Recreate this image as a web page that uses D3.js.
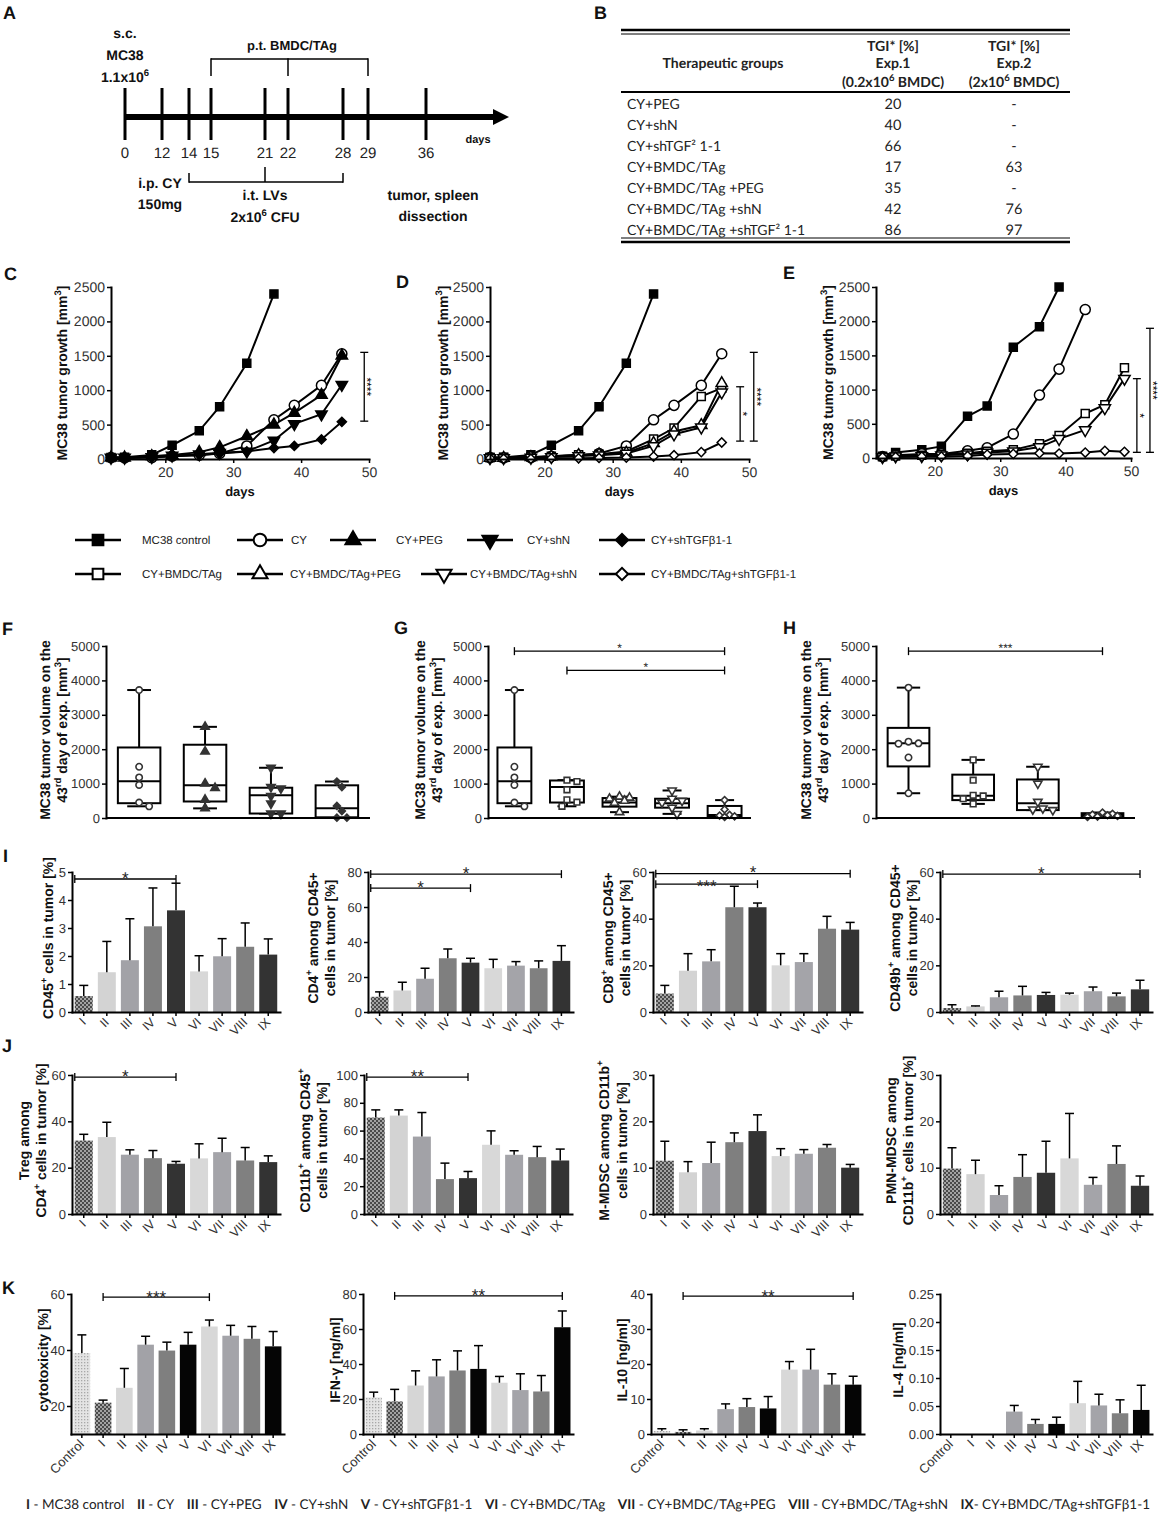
<!DOCTYPE html>
<html><head><meta charset="utf-8">
<script src="https://cdn.jsdelivr.net/npm/d3@7"></script>
<style>
body{margin:0;background:#fff;}
svg{display:block;}
text{text-rendering:geometricPrecision;}
</style></head><body>
<svg id="fig" width="1170" height="1517"></svg>
<script>
// ================= DATA =================
const timelineDays = [0,12,14,15,21,22,28,29,36];

const tableGroups = ["CY+PEG","CY+shN","CY+shTGF² 1-1","CY+BMDC/TAg","CY+BMDC/TAg +PEG","CY+BMDC/TAg +shN","CY+BMDC/TAg +shTGF² 1-1"];
const tgiExp1 = ["20","40","66","17","35","42","86"];
const tgiExp2 = ["-","-","-","63","-","76","97"];

const groupNames = ["MC38 control","CY","CY+PEG","CY+shN","CY+shTGFβ1-1","CY+BMDC/TAg","CY+BMDC/TAg+PEG","CY+BMDC/TAg+shN","CY+BMDC/TAg+shTGFβ1-1"];
const groupSym = ["square","circle","tri","triDown","diamond","square","tri","triDown","diamond"];
const groupFilled = [true,false,true,true,true,false,false,false,false];

const growthDays  = [12,14,18,21,25,28,32,36,39,43,46];
const growthDaysE = [12,14,18,21,25,28,32,36,39,43,46,49];

// C
const cControl = [20,25,60,200,410,760,1390,2400];
const cCY      = [20,15,20,40,55,80,190,570,780,1070,1530];
const cPEG     = [20,20,40,60,100,170,330,500,670,930,1500];
const cShN     = [20,20,30,50,70,90,110,270,510,650,1080];
const cShTGF   = [15,15,25,40,60,80,110,160,190,285,540];
// D
const dControl   = [20,25,60,200,410,760,1390,2400];
const dCY        = [20,15,20,40,55,80,190,570,780,1070,1530];
const dBMDC      = [20,20,30,40,60,70,110,290,450,910,1030];
const dBMDCPEG   = [15,15,25,35,55,65,90,230,400,490,1100];
const dBMDCShN   = [15,15,20,30,45,55,80,190,360,460,970];
const dBMDCShTGF = [10,5,5,10,10,15,20,35,55,100,240];
// E
const eControl   = [25,80,120,170,610,760,1620,1920,2500];
const eCY        = [20,40,60,60,105,150,350,920,1300,2170];
const eBMDC      = [20,30,40,50,70,100,120,210,330,650,780,1320];
const eBMDCShN   = [15,25,30,40,55,80,100,160,280,410,730,1160];
const eBMDCShTGF = [10,15,20,20,30,50,60,70,65,80,105,90];

const growthTicksY = [0,500,1000,1500,2000,2500];
const growthTicksX = [20,30,40,50];

// F, G, H box plots (tumour volume day 43)
const fGroups = [1,2,3,4];
const fPoints = [[3720,1490,1180,960,450,340],[2650,1930,1000,870,530,280],[1460,900,860,640,420,130,130],[1060,900,350,200,10,10]];
const fQ1 = [430,480,130,20], fMed = [1070,950,660,280], fQ3 = [2050,2130,880,950];

const gGroups = [1,5,6,7,8];
const gPoints = [[3720,1490,1180,960,450,340],[1100,1060,820,530,460,340],[620,590,560,500,440,170],[800,560,500,450,300,120],[520,250,90,70,50,30]];
const gQ1 = [430,450,330,300,40], gMed = [1070,900,450,430,90], gQ3 = [2050,1090,580,560,350];

const hGroups = [1,5,7,8];
const hPoints = [[3790,2220,2170,2160,1760,720],[1690,1100,660,640,560,410],[1490,1000,470,280,250,230],[160,120,100,80,60,40,30]];
const hQ1 = [1500,520,230,40], hMed = [2170,650,430,90], hQ3 = [2620,1260,1120,140];
const volumeTicks = [0,1000,2000,3000,4000,5000];

// I, J, K bar charts
const roman = ["I","II","III","IV","V","VI","VII","VIII","IX"];
const kCats = ["Control","I","II","III","IV","V","VI","VII","VIII","IX"];

const cd45Mean = [0.57,1.42,1.85,3.06,3.63,1.45,1.99,2.33,2.05];
const cd45SD   = [0.38,1.10,1.48,1.37,0.97,0.56,0.63,0.85,0.56];
const cd4Mean  = [8.7,12.3,19,30.7,28.2,25,26.5,25,29.2];
const cd4SD    = [2.8,4.7,6,5.3,2.5,5.1,2.3,4.2,8.7];
const cd8Mean  = [7.9,17.7,21.7,44.9,44.9,20,21.4,35.7,35.3];
const cd8SD    = [3.5,7.3,5,9,1.8,5,3.6,5.3,3.1];
const cd49Mean = [1.7,2.4,6.3,7.1,7.3,7.4,8.9,6.7,9.7];
const cd49SD   = [1.4,0.2,2.6,3.9,1.1,0.7,1.8,1.4,3.9];

const tregMean = [31.7,33.2,25.6,24.1,21.7,24,26.7,23.1,22.4];
const tregSD   = [2.7,6.4,2.1,3.3,1.0,6.3,6.0,5.6,2.7];
const cd11Mean = [69.4,70.8,55.7,25.1,25.8,49.8,42.6,40.9,38.5];
const cd11SD   = [5.5,4.1,17.3,11.5,4.8,10,2.9,7.7,8.2];
const mmdscMean = [11.5,9,11,15.5,17.9,12.5,13,14.3,10];
const mmdscSD   = [4.2,2.3,4.5,2,3.5,1.6,0.9,0.7,0.7];
const pmnMean  = [9.8,8.6,4.1,8,8.9,12,6.3,10.8,6.1];
const pmnSD    = [4.5,3,2,4.8,6.8,9.7,1.6,3.9,2.1];

const cytoMean = [38.9,21.2,26.5,41.9,39.8,41.9,48.4,45.1,44,41.3];
const cytoSD   = [6.5,0.9,6.9,3,3,4.4,2.3,3.7,4.4,5.3];
const ifnMean  = [20.9,18.6,27.7,32.9,36.3,37.2,29.3,25.1,24.3,61];
const ifnSD    = [3,6.9,8.4,9.5,11.2,13.3,3.6,9.3,9.1,9.3];
const il10Mean = [0.9,0.6,1.0,7.1,7.7,7.3,18.4,18.4,14.1,14.1];
const il10SD   = [0.6,0.6,0.5,1.5,2.4,3.4,2.3,5.8,3.1,2.4];
const il4Mean  = [0,0,0,0.040,0.018,0.018,0.055,0.051,0.037,0.043];
const il4SD    = [0,0,0,0.011,0.008,0.012,0.039,0.020,0.024,0.044];

const bottomLegend = [["I"," - MC38 control"],["II"," - CY"],["III"," - CY+PEG"],["IV"," - CY+shN"],["V"," - CY+shTGFβ1-1"],["VI"," - CY+BMDC/TAg"],["VII"," - CY+BMDC/TAg+PEG"],["VIII"," - CY+BMDC/TAg+shN"],["IX","- CY+BMDC/TAg+shTGFβ1-1"]];

// ================= LAYOUT / STYLE =================
const FONT = '"Liberation Sans", Arial, Helvetica, sans-serif';
const CAL = 'Lato, "Open Sans", sans-serif';
const svg = d3.select("#fig");
const defs = svg.append("defs");
const pChk = defs.append("pattern").attr("id","chk").attr("width",4).attr("height",4).attr("patternUnits","userSpaceOnUse");
pChk.append("rect").attr("width",4).attr("height",4).attr("fill","#a3a3a3");
pChk.append("rect").attr("width",2).attr("height",2).attr("fill","#4a4a4a");
pChk.append("rect").attr("x",2).attr("y",2).attr("width",2).attr("height",2).attr("fill","#4a4a4a");
const pDot = defs.append("pattern").attr("id","dot").attr("width",3).attr("height",3).attr("patternUnits","userSpaceOnUse");
pDot.append("rect").attr("width",3).attr("height",3).attr("fill","#e4e4e4");
pDot.append("rect").attr("width",1.3).attr("height",1.3).attr("fill","#a8a8a8");

const fillsIJ = ["url(#chk)","#d3d3d3","#a2a2a7","#7f7f7f","#333333","#d8d8d8","#a4a4a9","#808080","#333333"];
const fillsK = ["url(#dot)","url(#chk)","#d6d6d6","#a2a2a7","#7f7f7f","#050505","#d8d8d8","#a4a4a9","#808080","#050505"];

function rich(t, str, fs) {
  const parts = str.split(/(\^\{[^}]*\})/).filter(p => p);
  let pend = 0;
  parts.forEach(p => {
    if (p.startsWith("^{")) {
      t.append("tspan").attr("dy", -fs*0.42).attr("font-size", fs*0.68).text(p.slice(2,-1));
      pend = fs*0.42;
    } else {
      const ts = t.append("tspan").text(p);
      if (pend) { ts.attr("dy", pend); pend = 0; }
    }
  });
  return t;
}
function txt(g, x, y, str, o = {}) {
  const fs = o.fs || 13;
  const t = g.append("text").attr("x", x).attr("y", y)
    .attr("font-family", o.font || FONT).attr("font-size", fs)
    .attr("font-weight", o.bold ? "bold" : "normal")
    .attr("fill", o.fill || "#111").attr("text-anchor", o.anchor || "middle");
  rich(t, str, fs);
  return t;
}
function rotLabel(g, x, y, str, fs) {
  const t = g.append("text").attr("transform", `translate(${x},${y}) rotate(-90)`)
    .attr("dy", "0.35em").attr("text-anchor","middle")
    .attr("font-family", FONT).attr("font-size", fs).attr("font-weight","bold").attr("fill","#111");
  rich(t, str, fs);
}
function panelLetter(l, x, y) {
  svg.append("text").attr("x", x).attr("y", y).attr("font-family", FONT).attr("font-size", 18)
    .attr("font-weight","bold").attr("fill","#111").text(l);
}
function line(g, x1, y1, x2, y2, w = 1.5) {
  g.append("line").attr("x1",x1).attr("y1",y1).attr("x2",x2).attr("y2",y2)
    .attr("stroke","#000").attr("stroke-width",w);
}
function styleAxis(a, fs) {
  a.attr("font-family", FONT).attr("font-size", fs);
  a.select(".domain").attr("stroke","#000").attr("stroke-width",2).attr("stroke-linecap","square");
  a.selectAll(".tick line").attr("stroke","#000").attr("stroke-width",1.5);
  a.selectAll(".tick text").attr("fill","#333").attr("font-size", fs);
}
function marker(g, type, filled, x, y, size, sw = 1.5, color = "#000") {
  let sym = d3.symbolSquare, rot = 0, s = size;
  if (type === "circle") sym = d3.symbolCircle;
  else if (type === "tri") { sym = d3.symbolTriangle; s = size*0.9; }
  else if (type === "triDown") { sym = d3.symbolTriangle; rot = 180; s = size*0.9; }
  else if (type === "diamond") { sym = d3.symbolSquare; rot = 45; s = size*0.6; }
  g.append("path").attr("d", d3.symbol(sym, s)())
    .attr("transform", `translate(${x},${y}) rotate(${rot})`)
    .attr("fill", filled ? color : "#fff").attr("stroke", color).attr("stroke-width", sw);
}

// ================= A: timeline =================
(function () {
  const g = svg.append("g");
  const timelinePos = [125,162,189,211,265,288,343,368,426];
  const tl = d3.scaleLinear().domain(timelineDays).range(timelinePos);
  panelLetter("A", 3, 19);
  line(g, tl(0), 117, 496, 117, 6);
  g.append("path").attr("d", "M493,109 L509,117 L493,125 Z").attr("fill","#000");
  timelineDays.forEach(d => {
    line(g, tl(d), 88, tl(d), 140, 3);
    txt(g, tl(d), 158, String(d), { fs: 15, fill: "#222" });
  });
  txt(g, 478, 143, "days", { fs: 11, bold: true });
  line(g, tl(15), 59, tl(29), 59, 1.5);
  [15, 22, 29].forEach(d => line(g, tl(d), 58.3, tl(d), 76, 1.5));
  txt(g, tl(22) + 4, 50, "p.t. BMDC/TAg", { fs: 13, bold: true });
  line(g, tl(14), 182, tl(28), 182, 1.5);
  line(g, tl(14), 173, tl(14), 182.7, 1.5);
  line(g, tl(28), 173, tl(28), 182.7, 1.5);
  line(g, tl(21), 167, tl(21), 182, 1.5);
  txt(g, tl(0), 38, "s.c.", { fs: 14, bold: true });
  txt(g, tl(0), 60, "MC38", { fs: 14, bold: true });
  txt(g, tl(0), 82, "1.1x10^{6}", { fs: 14, bold: true });
  txt(g, tl(12) - 2, 188, "i.p. CY", { fs: 14, bold: true });
  txt(g, tl(12) - 2, 209, "150mg", { fs: 14, bold: true });
  txt(g, tl(21), 200, "i.t. LVs", { fs: 14, bold: true });
  txt(g, tl(21), 222, "2x10^{6} CFU", { fs: 14, bold: true });
  txt(g, tl(36) + 7, 200, "tumor, spleen", { fs: 14, bold: true });
  txt(g, tl(36) + 7, 221, "dissection", { fs: 14, bold: true });
})();

// ================= B: table =================
(function () {
  const g = svg.append("g");
  panelLetter("B", 594, 19);
  const L = 621, R = 1070, c2 = 893, c3 = 1014;
  line(g, L, 30, R, 30, 2.5); line(g, L, 34, R, 34, 1);
  line(g, L, 92, R, 92, 2);
  line(g, L, 238, R, 238, 1); line(g, L, 242, R, 242, 2.5);
  const hb = { fs: 14, bold: true, font: CAL, fill: "#222" };
  txt(g, 723, 68, "Therapeutic groups", hb);
  txt(g, c2, 51, "TGI* [%]", hb); txt(g, c2, 68, "Exp.1", hb); txt(g, c2, 87, "(0.2x10^{6} BMDC)", hb);
  txt(g, c3, 51, "TGI* [%]", hb); txt(g, c3, 68, "Exp.2", hb); txt(g, c3, 87, "(2x10^{6} BMDC)", hb);
  const rowY = d3.scaleBand().domain(d3.range(tableGroups.length)).range([94, 240]);
  tableGroups.forEach((n, i) => {
    const y = rowY(i) + rowY.bandwidth()/2 + 5;
    txt(g, 627, y, n, { fs: 14, font: CAL, anchor: "start", fill: "#222" });
    txt(g, c2, y, tgiExp1[i], { fs: 14.5, font: CAL, fill: "#222" });
    txt(g, c3, y, tgiExp2[i], { fs: 14.5, font: CAL, fill: "#222" });
  });
})();

// ================= C, D, E: growth curves =================
function lineChart(o) {
  const g = svg.append("g");
  const x = d3.scaleLinear().domain(o.xDomain).range([o.x0, o.x1]);
  const y = d3.scaleLinear().domain([0, 2500]).range([o.yB, o.yT]);
  const ln = d3.line().x(d => x(d[0])).y(d => y(d[1]));
  o.series.forEach(s => {
    const pts = s.vals.map((v, i) => [s.days[i], v]);
    g.append("path").attr("d", ln(pts)).attr("fill","none").attr("stroke","#000").attr("stroke-width",2);
  });
  o.series.forEach(s => {
    s.vals.forEach((v, i) => {
      const gi = s.g, t = groupSym[gi];
      const size = t === "circle" ? 80 : t === "square" ? 64 : t === "diamond" ? 70 : 62;
      marker(g, t, groupFilled[gi], x(s.days[i]), y(v), size, 1.5);
    });
  });
  const ya = g.append("g").attr("transform", `translate(${o.x0},0)`)
    .call(d3.axisLeft(y).tickValues(growthTicksY).tickFormat(d3.format("d")).tickSize(4).tickSizeOuter(0).tickPadding(2));
  styleAxis(ya, 14);
  const xa = g.append("g").attr("transform", `translate(0,${o.yB})`)
    .call(d3.axisBottom(x).tickValues(growthTicksX).tickFormat(d3.format("d")).tickSize(4).tickSizeOuter(0).tickPadding(4));
  styleAxis(xa, 14);
  rotLabel(g, o.labelX, (o.yT + o.yB)/2, "MC38 tumor growth [mm^{3}]", 14);
  txt(g, (o.x0 + o.x1)/2, o.yB + 37, "days", { fs: 13, bold: true });
  o.brackets.forEach(b => {
    const bx = x(b.day), y1 = y(b.from), y2 = y(b.to);
    line(g, bx, y1, bx, y2, 1.3);
    line(g, bx - 4, y1, bx + 4, y1, 1.3);
    line(g, bx - 4, y2, bx + 4, y2, 1.3);
    g.append("text").attr("transform", `translate(${bx - 1},${(y1 + y2)/2}) rotate(90)`)
      .attr("text-anchor","middle").attr("font-family", FONT).attr("font-size", 12).attr("fill","#000").text(b.text);
  });
}
panelLetter("C", 4, 280);
lineChart({ x0: 111, x1: 369, yT: 287, yB: 459, xDomain: [12, 50], labelX: 62,
  series: [ {g:0, days: growthDays, vals: cControl}, {g:1, days: growthDays, vals: cCY}, {g:2, days: growthDays, vals: cPEG},
            {g:3, days: growthDays, vals: cShN}, {g:4, days: growthDays, vals: cShTGF} ],
  brackets: [ {day: 49.3, from: 550, to: 1550, text: "****"} ] });
panelLetter("D", 396, 288);
lineChart({ x0: 490, x1: 749, yT: 287, yB: 459, xDomain: [12, 50], labelX: 443,
  series: [ {g:0, days: growthDays, vals: dControl}, {g:1, days: growthDays, vals: dCY}, {g:5, days: growthDays, vals: dBMDC},
            {g:6, days: growthDays, vals: dBMDCPEG}, {g:7, days: growthDays, vals: dBMDCShN}, {g:8, days: growthDays, vals: dBMDCShTGF} ],
  brackets: [ {day: 48.7, from: 260, to: 1050, text: "*"}, {day: 50.7, from: 260, to: 1550, text: "****"} ] });
panelLetter("E", 783, 279);
lineChart({ x0: 876, x1: 1131, yT: 287, yB: 458, xDomain: [11, 50], labelX: 828,
  series: [ {g:0, days: growthDaysE, vals: eControl}, {g:1, days: growthDaysE, vals: eCY}, {g:5, days: growthDaysE, vals: eBMDC},
            {g:7, days: growthDaysE, vals: eBMDCShN}, {g:8, days: growthDaysE, vals: eBMDCShTGF} ],
  brackets: [ {day: 50.9, from: 83, to: 1160, text: "*"}, {day: 52.9, from: 83, to: 1896, text: "****"} ] });

// legend
(function () {
  const g = svg.append("g");
  const legendRows = [[0,1,2,3,4],[5,6,7,8]];
  const legendY = [540, 574];
  const legendLineX = [[75,237,330,467,599],[75,237,421,599]];
  const legendTextX = [[142,291,396,527,651],[142,290,470,651]];
  legendRows.forEach((row, r) => row.forEach((gi, j) => {
    const lx = legendLineX[r][j], ly = legendY[r];
    line(g, lx, ly, lx + 46, ly, 2.5);
    const t = groupSym[gi];
    const size = t === "circle" ? 125 : t === "square" ? 115 : t === "diamond" ? 125 : 110;
    marker(g, t, groupFilled[gi], lx + 23, ly, size, 2);
    txt(g, legendTextX[r][j], ly + 4, groupNames[gi], { fs: 11.5, anchor: "start", fill: "#222" });
  }));
})();

// ================= F, G, H: box plots =================
function boxChart(o) {
  const g = svg.append("g");
  const x = d3.scaleBand().domain(d3.range(o.groups.length)).range([o.x0, o.x1]).paddingInner(0.355).paddingOuter(0.18);
  const y = d3.scaleLinear().domain([0, 5000]).range([o.yB, o.yT]);
  const bw = x.bandwidth();
  o.groups.forEach((gi, i) => {
    const cx = x(i) + bw/2;
    const ext = d3.extent(o.points[i]);
    line(g, cx, y(ext[0]), cx, y(o.q1[i]), 2);
    line(g, cx, y(o.q3[i]), cx, y(ext[1]), 2);
    line(g, cx - bw*0.28, y(ext[0]), cx + bw*0.28, y(ext[0]), 2);
    line(g, cx - bw*0.28, y(ext[1]), cx + bw*0.28, y(ext[1]), 2);
    g.append("rect").attr("x", x(i)).attr("width", bw).attr("y", y(o.q3[i])).attr("height", y(o.q1[i]) - y(o.q3[i]))
      .attr("fill","#fff").attr("stroke","#000").attr("stroke-width",2);
    line(g, x(i), y(o.med[i]), x(i) + bw, y(o.med[i]), 2);
    const placed = [], r = 3.4, half = bw/2 - 3;
    const cands = [0];
    for (let k = 1; k * 5 <= half; k++) cands.push(k*5, -k*5);
    o.points[i].forEach(v => {
      const py = y(v);
      let off = 0, best = -1;
      for (const c of cands) {
        const md = placed.length ? d3.min(placed, p => Math.hypot(p.x - c, p.y - py)) : Infinity;
        if (md >= 2*r) { off = c; best = Infinity; break; }
        if (md > best) { best = md; off = c; }
      }
      placed.push({ x: off, y: py });
      const t = groupSym[gi];
      const size = t === "circle" ? 32 : t === "square" ? 32 : t === "diamond" ? 40 : 34;
      marker(g, t, groupFilled[gi], cx + off, py, size, 1.6, "#333");
    });
  });
  const ya = g.append("g").attr("transform", `translate(${o.x0},0)`)
    .call(d3.axisLeft(y).tickValues(volumeTicks).tickFormat(d3.format("d")).tickSize(4).tickSizeOuter(0).tickPadding(2));
  styleAxis(ya, 13);
  line(g, o.x0, o.yB, o.x1, o.yB, 2);
  rotLabel(g, o.labelX[0], (o.yT + o.yB)/2 - 2, "MC38 tumor volume on the", 14);
  rotLabel(g, o.labelX[1], (o.yT + o.yB)/2 - 2, "43^{rd} day of exp. [mm^{3}]", 14);
  o.sig.forEach(s => {
    const xa = x(s.from) + bw/2, xb = x(s.to) + bw/2, yy = y(s.at);
    line(g, xa, yy, xb, yy, 1.3);
    line(g, xa, yy - 4, xa, yy + 4, 1.3);
    line(g, xb, yy - 4, xb, yy + 4, 1.3);
    g.append("text").attr("x", (xa + xb)/2).attr("y", yy + 1).attr("text-anchor","middle")
      .attr("font-family", FONT).attr("font-size", 12).attr("fill","#222").text(s.text);
  });
}
panelLetter("F", 2, 635);
boxChart({ x0: 106, x1: 370, yT: 646, yB: 818, labelX: [45, 62], groups: fGroups, points: fPoints, q1: fQ1, med: fMed, q3: fQ3, sig: [] });
panelLetter("G", 394, 634);
boxChart({ x0: 488, x1: 751, yT: 646, yB: 818, labelX: [420, 437], groups: gGroups, points: gPoints, q1: gQ1, med: gMed, q3: gQ3,
  sig: [ {from: 0, to: 4, at: 4850, text: "*"}, {from: 1, to: 4, at: 4290, text: "*"} ] });
panelLetter("H", 783, 634);
boxChart({ x0: 876, x1: 1135, yT: 646, yB: 818, labelX: [806, 823], groups: hGroups, points: hPoints, q1: hQ1, med: hMed, q3: hQ3,
  sig: [ {from: 0, to: 3, at: 4850, text: "***"} ] });

// ================= I, J, K: bar charts =================
function barChart(o) {
  const g = svg.append("g");
  const x = d3.scaleBand().domain(o.cats).range([o.x0, o.x1]).paddingInner(0.22).paddingOuter(0.12);
  const y = d3.scaleLinear().domain(o.domain).range([o.yB, o.yT]);
  const bw = x.bandwidth();
  g.selectAll("rect.bar").data(o.cats).join("rect").attr("class","bar")
    .attr("x", d => x(d)).attr("width", bw)
    .attr("y", (d, i) => y(o.mean[i])).attr("height", (d, i) => y(o.domain[0]) - y(o.mean[i]))
    .attr("fill", (d, i) => o.fills[i]);
  o.cats.forEach((c, i) => {
    if (!o.sd[i]) return;
    const cx = x(c) + bw/2, yt = y(o.mean[i] + o.sd[i]);
    line(g, cx, y(o.mean[i]), cx, yt, 1.5);
    line(g, cx - 4.5, yt, cx + 4.5, yt, 1.5);
  });
  const ya = g.append("g").attr("transform", `translate(${o.x0},0)`)
    .call(d3.axisLeft(y).tickValues(o.ticks).tickSize(4).tickSizeOuter(0).tickPadding(2).tickFormat(o.fmt || d3.format("d")));
  styleAxis(ya, 13);
  const xa = g.append("g").attr("transform", `translate(0,${o.yB})`)
    .call(d3.axisBottom(x).tickSize(4).tickSizeOuter(0).tickFormat(""));
  styleAxis(xa, 13);
  g.selectAll("text.xl").data(o.cats).join("text").attr("class","xl")
    .attr("transform", d => `translate(${x(d) + bw/2 + 3},${o.yB + 11}) rotate(-45)`)
    .attr("text-anchor","end").attr("font-family", FONT).attr("font-size", o.xfs || 12.5).attr("fill","#333").text(d => d);
  const yc = (o.yT + o.yB)/2 - 4;
  o.label.forEach((l, k) => rotLabel(g, o.labelX[k], yc, l, 14));
  (o.sig || []).forEach(s => {
    const xa1 = x(s.from) + (o.edge ? 0 : bw/2), xb = x(s.to) + bw/2, yy = y(s.at);
    line(g, xa1, yy, xb, yy, 1.3);
    line(g, xa1, yy - 4, xa1, yy + 4, 1.3);
    line(g, xb, yy - 4, xb, yy + 4, 1.3);
    g.append("text").attr("x", (xa1 + xb)/2 + (s.dx || 0)).attr("y", yy + (s.dy == null ? 4.5 : s.dy)).attr("text-anchor","middle")
      .attr("font-family", FONT).attr("font-size", 17).attr("fill","#222").text(s.text);
  });
}
const rowI = { yT: 872, yB: 1012, edge: true };
const rowJ = { yT: 1075, yB: 1214, edge: true };
const rowK = { yT: 1294, yB: 1434, edge: false };
panelLetter("I", 3, 862);
barChart({ ...rowI, x0: 72, x1: 280, cats: roman, domain: [0,5], ticks: [0,1,2,3,4,5], mean: cd45Mean, sd: cd45SD, fills: fillsIJ,
  label: ["CD45^{+} cells in tumor [%]"], labelX: [48], sig: [ {from: "I", to: "V", at: 4.75, text: "*"} ] });
barChart({ ...rowI, x0: 368, x1: 573, cats: roman, domain: [0,80], ticks: [0,20,40,60,80], mean: cd4Mean, sd: cd4SD, fills: fillsIJ,
  label: ["CD4^{+} among CD45+", "cells in tumor [%]"], labelX: [313, 330],
  sig: [ {from: "I", to: "IX", at: 78.8, text: "*"}, {from: "I", to: "V", at: 70.8, text: "*"} ] });
barChart({ ...rowI, x0: 653, x1: 862, cats: roman, domain: [0,60], ticks: [0,20,40,60], mean: cd8Mean, sd: cd8SD, fills: fillsIJ,
  label: ["CD8^{+} among CD45+", "cells in tumor [%]"], labelX: [608, 625],
  sig: [ {from: "I", to: "IX", at: 59.3, text: "*"}, {from: "I", to: "V", at: 54.8, text: "***", dy: 8} ] });
barChart({ ...rowI, x0: 940, x1: 1152, cats: roman, domain: [0,60], ticks: [0,20,40,60], mean: cd49Mean, sd: cd49SD, fills: fillsIJ,
  label: ["CD49b^{+} among CD45+", "cells in tumor [%]"], labelX: [895, 912],
  sig: [ {from: "I", to: "IX", at: 59.1, text: "*"} ] });

panelLetter("J", 2, 1052);
barChart({ ...rowJ, x0: 72, x1: 280, cats: roman, domain: [0,60], ticks: [0,20,40,60], mean: tregMean, sd: tregSD, fills: fillsIJ,
  label: ["Treg among", "CD4^{+} cells in tumor [%]"], labelX: [24, 41], sig: [ {from: "I", to: "V", at: 59.1, text: "*"} ] });
barChart({ ...rowJ, x0: 364, x1: 572, cats: roman, domain: [0,100], ticks: [0,20,40,60,80,100], mean: cd11Mean, sd: cd11SD, fills: fillsIJ,
  label: ["CD11b^{+} among CD45^{+}", "cells in tumor [%]"], labelX: [305, 322], sig: [ {from: "I", to: "V", at: 98.5, text: "**"} ] });
barChart({ ...rowJ, x0: 653, x1: 862, cats: roman, domain: [0,30], ticks: [0,10,20,30], mean: mmdscMean, sd: mmdscSD, fills: fillsIJ,
  label: ["M-MDSC among CD11b^{+}", "cells in tumor [%]"], labelX: [604, 622] });
barChart({ ...rowJ, x0: 940, x1: 1152, cats: roman, domain: [0,30], ticks: [0,10,20,30], mean: pmnMean, sd: pmnSD, fills: fillsIJ,
  label: ["PMN-MDSC among", "CD11b^{+} cells in tumor [%]"], labelX: [891, 908] });

panelLetter("K", 2, 1294);
barChart({ ...rowK, x0: 71, x1: 284, cats: kCats, domain: [10,60], ticks: [20,40,60], mean: cytoMean, sd: cytoSD, fills: fillsK, xfs: 13,
  label: ["cytotoxicity [%]"], labelX: [43], sig: [ {from: "I", to: "VI", at: 58.9, text: "***", dy: 5.5} ] });
barChart({ ...rowK, x0: 363, x1: 573, cats: kCats, domain: [0,80], ticks: [0,20,40,60,80], mean: ifnMean, sd: ifnSD, fills: fillsK, xfs: 13,
  label: ["IFN-γ [ng/ml]"], labelX: [335], sig: [ {from: "I", to: "IX", at: 78.9, text: "**", dy: 5.5} ] });
barChart({ ...rowK, x0: 651, x1: 864, cats: kCats, domain: [0,40], ticks: [0,10,20,30,40], mean: il10Mean, sd: il10SD, fills: fillsK, xfs: 13,
  label: ["IL-10 [ng/ml]"], labelX: [622], sig: [ {from: "I", to: "IX", at: 39.4, text: "**", dy: 5.5} ] });
barChart({ ...rowK, x0: 940, x1: 1152, cats: kCats, domain: [0,0.25], ticks: [0,0.05,0.10,0.15,0.20,0.25], fmt: d3.format(".2f"),
  mean: il4Mean, sd: il4SD, fills: fillsK, xfs: 13, label: ["IL-4 [ng/ml]"], labelX: [898] });

// bottom legend line
(function () {
  const g = svg.append("g");
  const items = bottomLegend.map(([n, rest]) => {
    const t = g.append("text").attr("y", 1509).attr("font-family", CAL).attr("font-size", 13.5).attr("fill","#222");
    t.append("tspan").attr("font-weight","bold").text(n);
    t.append("tspan").text(rest);
    return t;
  });
  const widths = items.map(t => t.node().getComputedTextLength());
  const start = 26, end = 1150;
  const gap = (end - start - d3.sum(widths)) / (items.length - 1);
  let xx = start;
  items.forEach((t, i) => { t.attr("x", xx); xx += widths[i] + gap; });
})();
</script></body></html>
